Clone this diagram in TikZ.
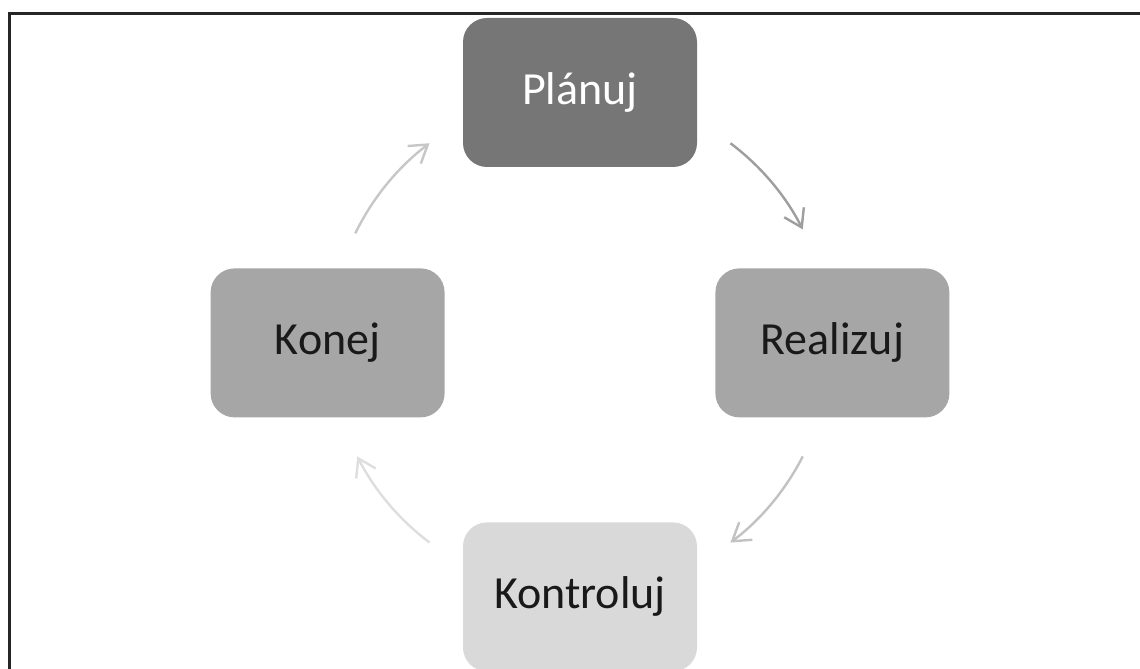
\documentclass[tikz,border=0pt]{standalone}
\usepackage{fontspec}
\setmainfont{Carlito}
\usetikzlibrary{positioning, arrows.meta}

\definecolor{planFill}{HTML}{767676}
\definecolor{krokFill}{HTML}{A6A6A6}
\definecolor{kontFill}{HTML}{D9D9D9}

\begin{document}
\begin{tikzpicture}[
    x=1pt, y=1pt,
    every node/.style={font=\fontsize{46}{52}\selectfont},
    krok/.style={rectangle, rounded corners=24pt, minimum width=234pt, minimum height=149pt, align=center, inner sep=0pt},
    cyklus/.style={line width=2.4pt, -{Straight Barb[length=17pt, width=22pt]}}
  ]
  \path[use as bounding box, clip] (0,0) rectangle (1140,669);

  % ramecek
  \draw[line width=3pt, black!85] (9,-20) -- (9,655) -- (1160,655);

  % ---------------- kroky cyklu ----------------
  \node (plan) [krok, fill=planFill, text=white] at (580,576.5) {Plánuj};
  \node (real) [krok, fill=krokFill, text=black!90, below right=101pt and 18pt of plan] {Realizuj};
  \node (konej) [krok, fill=krokFill, text=black!90, below left=101pt and 18pt of plan] {Konej};
  \node (kont) [krok, fill=kontFill, text=black!90, below=355pt of plan] {Kontroluj};

  % stred kruhu
  \coordinate (hub) at (plan |- real);

  % sipky po kruhu
  \draw[cyklus, black!38] (hub) ++(53:250) arc[start angle=53, end angle=27, radius=250];
  \draw[cyklus, black!24] (hub) ++(-27:250) arc[start angle=-27, end angle=-53, radius=250];
  \draw[cyklus, black!13] (hub) ++(233:250) arc[start angle=233, end angle=207, radius=250];
  \draw[cyklus, black!22] (hub) ++(154:250) arc[start angle=154, end angle=127, radius=250];

\end{tikzpicture}
\end{document}
